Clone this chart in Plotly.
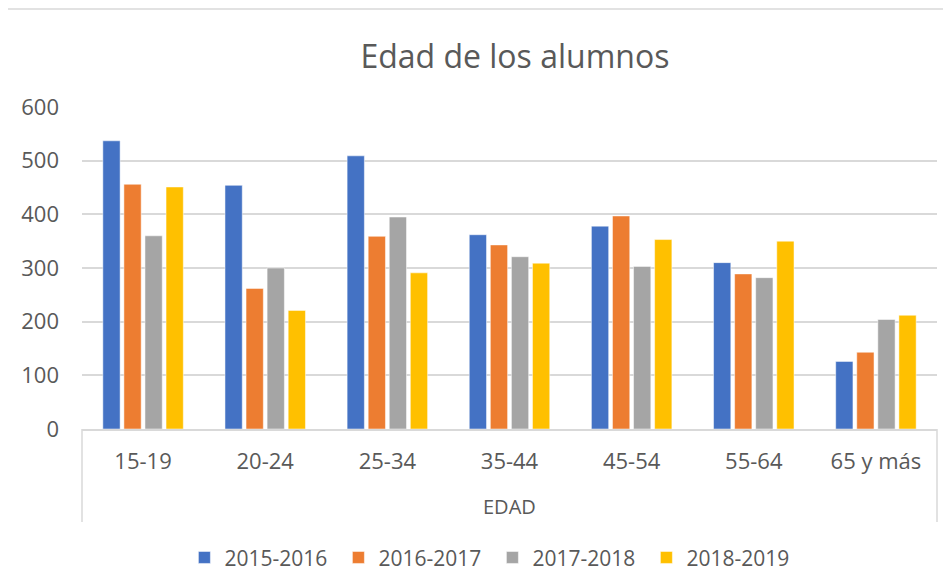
import plotly.graph_objects as go

categorias = ["15-19", "20-24", "25-34", "35-44", "45-54", "55-64", "65 y más"]
grupo = "EDAD"
series = ["2015-2016", "2016-2017", "2017-2018", "2018-2019"]
v_2015 = [537, 454, 509, 362, 378, 310, 126]
v_2016 = [456, 262, 359, 343, 397, 289, 143]
v_2017 = [360, 300, 395, 321, 303, 282, 204]
v_2018 = [451, 221, 291, 309, 353, 350, 212]
valores = [v_2015, v_2016, v_2017, v_2018]
colores = ["#4472C4", "#ED7D31", "#A5A5A5", "#FFC000"]

FUENTE = "Open Sans, sans-serif"
GRIS = "#595959"
LINEA = "#D9D9D9"

fig = go.Figure()
for nombre, vals, col in zip(series, valores, colores):
    fig.add_trace(go.Bar(x=categorias, y=vals, name=nombre, marker_color=col,
                         marker_line=dict(color="white", width=0.5)))

# marco exterior del gráfico
fig.add_shape(type="rect", xref="paper", yref="paper",
              x0=-0.089, x1=1.03, y0=-0.6, y1=1.304,
              line=dict(color=LINEA, width=1.5), layer="below")
# caja del segundo nivel del eje (EDAD)
for xp in (0, 1):
    fig.add_shape(type="line", xref="paper", yref="paper",
                  x0=xp, x1=xp, y0=0, y1=-0.289,
                  line=dict(color=LINEA, width=1.5))
fig.add_annotation(text=grupo, xref="paper", yref="paper", x=0.5, y=-0.242,
                   xanchor="center", yanchor="middle", showarrow=False,
                   font=dict(family=FUENTE, size=20, color=GRIS))

# la página añade 8 px de margen al cuerpo: se compensa en los márgenes
fig.update_layout(
    width=951, height=588,
    margin=dict(l=74, r=22, t=99, b=167),
    plot_bgcolor="white", paper_bgcolor="white",
    barmode="group", bargap=0.31, bargroupgap=0.18,
    title=dict(text="Edad de los alumnos", x=0.533, xanchor="center",
               y=0.917, yanchor="middle",
               font=dict(family=FUENTE, size=32, color=GRIS)),
    font=dict(family=FUENTE, size=22, color=GRIS),
    legend=dict(orientation="h", x=0.48, xanchor="center", y=-0.40, yanchor="middle",
                font=dict(size=21, color=GRIS), entrywidth=109, itemwidth=30),
    showlegend=True,
)
fig.update_yaxes(range=[0, 600], dtick=100, showgrid=True, gridcolor=LINEA,
                 gridwidth=1.5, zeroline=False, showline=False, automargin=False,
                 tickfont=dict(size=22, color=GRIS), ticklabelstandoff=22)
fig.update_xaxes(showline=True, linecolor=LINEA, linewidth=1.5, automargin=False,
                 tickfont=dict(size=22, color=GRIS), ticks="", ticklabelstandoff=12)

fig.write_html("out.html")
